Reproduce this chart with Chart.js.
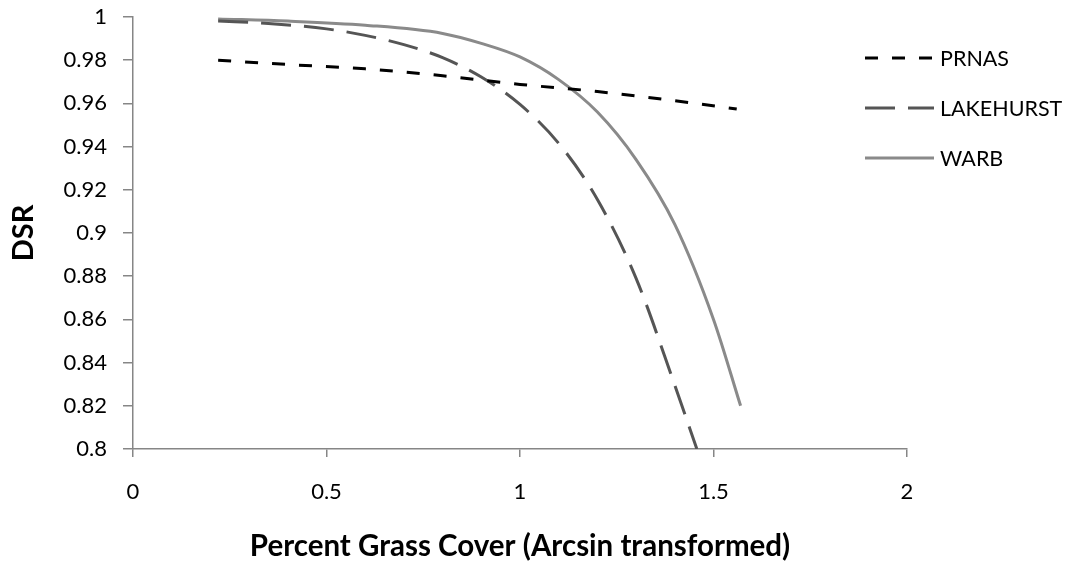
<!DOCTYPE html>
<html>
<head>
<meta charset="utf-8">
<script src="https://cdn.jsdelivr.net/npm/chart.js@4/dist/chart.umd.min.js"></script>
<style>
  html, body { margin: 0; padding: 0; background: #fff; }
  #wrap { width: 1073px; height: 569px; position: relative; }
</style>
</head>
<body>
<div id="wrap"><canvas id="chart"></canvas></div>
<script>
const seriesNames = ["PRNAS", "LAKEHURST", "WARB"];

const prnasX = [0.22, 0.4, 0.6, 0.8, 1.0, 1.2, 1.4, 1.56];
const prnasY = [0.980, 0.978, 0.976, 0.9728, 0.9688, 0.9655, 0.9612, 0.9574];

const lakehurstX = [0.22, 0.35, 0.5, 0.6, 0.7, 0.8, 0.9, 1.0, 1.1, 1.2, 1.3, 1.4, 1.457];
const lakehurstY = [0.9982, 0.997, 0.9945, 0.9915, 0.9872, 0.9812, 0.9722, 0.9595, 0.9415, 0.9155, 0.879, 0.8295, 0.80];

const warbX = [0.22, 0.4, 0.6, 0.8, 0.9, 1.0, 1.1, 1.2, 1.3, 1.4, 1.5, 1.57];
const warbY = [0.9991, 0.9981, 0.9962, 0.9924, 0.9878, 0.9815, 0.971, 0.956, 0.934, 0.904, 0.86, 0.82];

const xTicks = [0, 0.5, 1, 1.5, 2];
const yTicks = [0.8, 0.82, 0.84, 0.86, 0.88, 0.9, 0.92, 0.94, 0.96, 0.98, 1];

const FONT = "Lato, 'Open Sans', sans-serif";

function pts(xs, ys) {
  return xs.map((x, i) => ({ x: x, y: ys[i] }));
}

// legend drawn on the right, Excel style
const sideLegend = {
  id: "sideLegend",
  afterDraw(chart) {
    const ctx = chart.ctx;
    ctx.save();
    chart.data.datasets.forEach((ds, i) => {
      const y = 58 + i * 50;
      ctx.beginPath();
      ctx.strokeStyle = ds.borderColor;
      ctx.lineWidth = ds.borderWidth;
      ctx.setLineDash(ds.borderDash || []);
      ctx.moveTo(865, y);
      ctx.lineTo(934, y);
      ctx.stroke();
      ctx.setLineDash([]);
      ctx.fillStyle = "#000";
      ctx.font = "21.5px " + FONT;
      ctx.textBaseline = "middle";
      ctx.fillText(ds.label, 940, y + 1);
    });
    ctx.restore();
  }
};

new Chart(document.getElementById("chart"), {
  type: "line",
  data: {
    datasets: [
      {
        label: seriesNames[0],
        data: pts(prnasX, prnasY),
        borderColor: "#000000",
        borderWidth: 3,
        borderDash: [13, 14]
      },
      {
        label: seriesNames[1],
        data: pts(lakehurstX, lakehurstY),
        borderColor: "#555555",
        borderWidth: 3,
        borderDash: [30, 13]
      },
      {
        label: seriesNames[2],
        data: pts(warbX, warbY),
        borderColor: "#8a8a8a",
        borderWidth: 3
      }
    ]
  },
  options: {
    responsive: true,
    maintainAspectRatio: false,
    animation: false,
    layout: { padding: { top: 17, right: 166, bottom: 0, left: 0 } },
    elements: {
      point: { radius: 0 },
      line: { cubicInterpolationMode: "monotone", fill: false }
    },
    plugins: {
      legend: { display: false },
      tooltip: { enabled: false }
    },
    scales: {
      x: {
        type: "linear",
        min: 0,
        max: 2,
        afterBuildTicks: s => { s.ticks = xTicks.map(v => ({ value: v })); },
        afterFit: s => { s.height = 120; s.paddingLeft = 0; s.paddingRight = 0; },
        grid: { drawOnChartArea: false, tickLength: 8, color: "#868686", lineWidth: 1.5 },
        border: { color: "#868686", width: 1.5 },
        ticks: {
          color: "#000",
          font: { family: FONT, size: 22 },
          padding: 22,
          callback: v => String(v)
        },
        title: {
          display: true,
          text: "Percent Grass Cover (Arcsin transformed)",
          color: "#000",
          font: { family: FONT, size: 29.5, weight: "bold" },
          padding: { top: 0, bottom: 5 }
        }
      },
      y: {
        min: 0.8,
        max: 1,
        afterBuildTicks: s => { s.ticks = yTicks.map(v => ({ value: v })); },
        afterFit: s => { s.width = 133; s.paddingTop = 0; s.paddingBottom = 0; },
        grid: { drawOnChartArea: false, tickLength: 10, color: "#868686", lineWidth: 1.5 },
        border: { color: "#868686", width: 1.5 },
        ticks: {
          color: "#000",
          font: { family: FONT, size: 22 },
          padding: 16,
          callback: v => String(+v.toFixed(2))
        },
        title: {
          display: true,
          text: "DSR",
          color: "#000",
          font: { family: FONT, size: 29, weight: "bold" },
          padding: { top: 6, bottom: 0 }
        }
      }
    }
  },
  plugins: [sideLegend]
});
</script>
</body>
</html>
